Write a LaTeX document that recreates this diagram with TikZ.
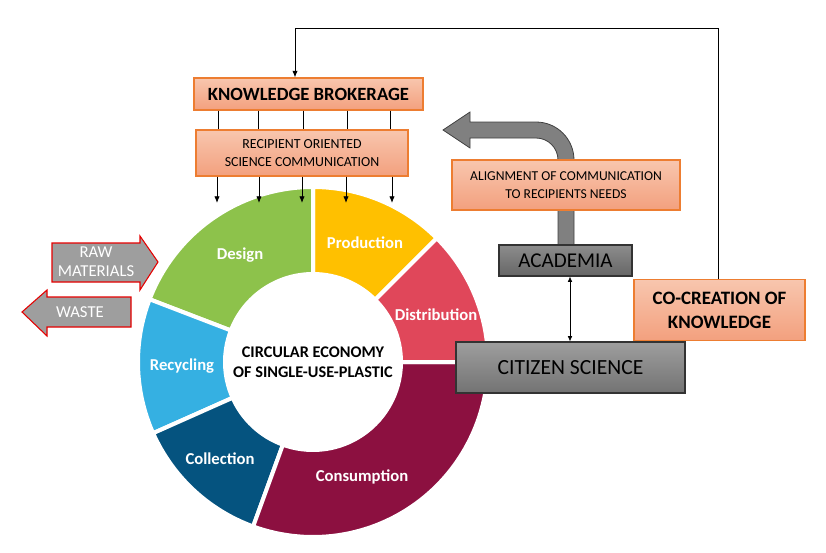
\documentclass[tikz,border=0pt]{standalone}
\usepackage{fontspec}
\setmainfont{Carlito}
\usetikzlibrary{arrows.meta,calc}
\definecolor{obord}{HTML}{ED7D31}
\definecolor{otop}{HTML}{F8C6AE}
\definecolor{obot}{HTML}{F3A07E}
\definecolor{cdes}{HTML}{8DC24B}
\definecolor{cpro}{HTML}{FFC000}
\definecolor{cdis}{HTML}{E0475A}
\definecolor{ccon}{HTML}{8C1040}
\definecolor{ccol}{HTML}{05537F}
\definecolor{crec}{HTML}{35B0E2}
\begin{document}
\begin{tikzpicture}[x=0.75pt,y=-0.75pt,
  obox/.style={draw=obord,line width=0.8pt,top color=otop,bottom color=obot,align=center,inner sep=0pt},
  gbox/.style={draw=black!80,line width=0.8pt,top color=black!45,bottom color=black!60,inner sep=0pt},
  lab/.style={text=white,font=\bfseries\fontsize{12.5}{14}\selectfont},
  conn/.style={line width=0.6pt},
  arr/.style={conn,-{Latex[length=5pt,width=4pt]}}]
\useasboundingbox (0,0) rectangle (826,553);
\def\cx{313}\def\cy{362}\def\R{175}\def\r{88}
\newcommand\mysector[3]{\fill[#1,draw=white,line width=3pt] (\cx,\cy)++(-#2:\R) arc[start angle=-#2,end angle=-#3,radius=\R] -- ($(\cx,\cy)+(-#3:\r)$) arc[start angle=-#3,end angle=-#2,radius=\r] -- cycle;}
\mysector{cpro}{45}{90}
\mysector{cdes}{90}{159}
\mysector{crec}{159}{204}
\mysector{ccol}{204}{250}
\mysector{ccon}{250}{360}
\mysector{cdis}{0}{45}
\node[align=center,font=\bfseries\fontsize{12.2}{15}\selectfont] (ce) at (\cx,\cy) {CIRCULAR ECONOMY\\OF SINGLE-USE-PLASTIC};
\node[lab] (des) at (240,255) {Design};
\node[lab] (pro) at (365,243) {Production};
\node[lab] (dis) at (436,315) {Distribution};
\node[lab] (rec) at (182,366) {Recycling};
\node[lab] (col) at (220,459) {Collection};
\node[lab] (con) at (362,477) {Consumption};
% gray curved arrow
\fill[black!50,draw=black!75,line width=0.6pt] (558,245) -- (558,160) arc[start angle=0,end angle=-90,radius=22] -- (470,138) -- (470,148) -- (443,130) -- (470,112) -- (470,122) -- (536,122) arc[start angle=-90,end angle=0,radius=38] -- (574,245) -- cycle;
% boxes
\node[obox,minimum width=229*0.75pt,minimum height=32*0.75pt,font=\bfseries\fontsize{14}{16}\selectfont] (kb) at (308.5,94) {KNOWLEDGE BROKERAGE};
\node[obox,minimum width=212*0.75pt,minimum height=46*0.75pt,font=\fontsize{10.4}{13.5}\selectfont] (ro) at (302,153) {RECIPIENT ORIENTED\\SCIENCE COMMUNICATION};
\node[obox,minimum width=228*0.75pt,minimum height=50*0.75pt,font=\fontsize{10.2}{13.5}\selectfont] (al) at (566,185) {ALIGNMENT OF COMMUNICATION\\TO RECIPIENTS NEEDS};
\node[obox,minimum width=171*0.75pt,minimum height=61*0.75pt,font=\bfseries\fontsize{14.2}{18}\selectfont] (cc) at (719.5,310) {CO-CREATION OF\\KNOWLEDGE};
\node[gbox,minimum width=133*0.75pt,minimum height=31*0.75pt,font=\fontsize{15.8}{18}\selectfont] (ac) at (565.5,260.5) {ACADEMIA};
\node[gbox,minimum width=229*0.75pt,minimum height=51*0.75pt,font=\fontsize{16.2}{19}\selectfont,top color=black!38,bottom color=black!55] (cs) at (570.5,367.5) {CITIZEN SCIENCE};
\draw[conn,{Latex[length=4pt,width=3.5pt]}-{Latex[length=4pt,width=3.5pt]}] (ac.south -| 570,0) -- (cs.north -| 570,0);
% connectors
\foreach \x in {218,258,303,347,390}{\draw[conn] (kb.south -| \x,0) -- (ro.north -| \x,0);}
\foreach \x in {217,259,302,346,392}{\coordinate (t\x) at (\x,203); \draw[arr] (ro.south -| \x,0) -- (t\x);}
\draw[arr] (cc.north -| 718,0) -- (718,28) -- (295,28) -- (kb.north -| 295,0);
% side arrows
\fill[black!38,draw=red!90!black,line width=0.8pt] (52,243) -- (140,243) -- (140,236) -- (158,262) -- (140,290) -- (140,282) -- (52,282) -- cycle;
\node[text=white,align=center,font=\fontsize{12.5}{14}\selectfont] (raw) at (96,262) {RAW\\MATERIALS};
\fill[black!38,draw=red!90!black,line width=0.8pt] (131,297) -- (47,297) -- (47,290) -- (22,312) -- (47,336) -- (47,327) -- (131,327) -- cycle;
\node[text=white,font=\fontsize{12.5}{14}\selectfont] (was) at (80,312) {WASTE};
\end{tikzpicture}
\end{document}
